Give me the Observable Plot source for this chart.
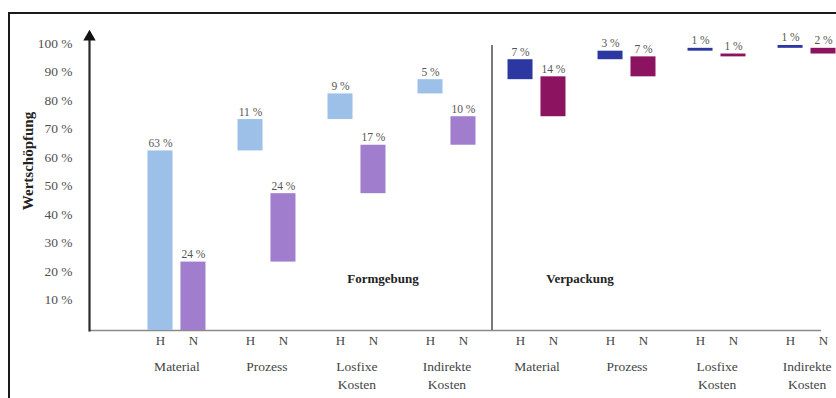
<!DOCTYPE html>
<html>
<head>
<meta charset="utf-8">
<script src="https://cdn.jsdelivr.net/npm/d3@7"></script>
<script src="https://cdn.jsdelivr.net/npm/@observablehq/plot@0.6"></script>
<style>
  html, body { margin: 0; padding: 0; background: #fff; }
  #wrap { position: relative; width: 836px; height: 398px; overflow: hidden; background: #fff; }
  #chart { position: absolute; left: 0; top: 0; }
  #border {
    position: absolute; left: 8px; top: 12px; right: -4px; bottom: -4px;
    border-top: 2px solid #1a1a1a; border-left: 2px solid #1a1a1a;
    pointer-events: none; z-index: 2;
  }
</style>
</head>
<body>
<div id="wrap"><div id="chart"></div><div id="border"></div></div>
<script>
// Wertschöpfung per cost category, split by process step (Formgebung, Verpackung)
// and by variant (H, N). Each bar floats on the running total of the ones before it.
const sections = ["Formgebung", "Verpackung"];
const categories = ["Material", "Prozess", "Losfixe\nKosten", "Indirekte\nKosten"];
const hShares = [63, 11, 9, 5, 7, 3, 1, 1];
const nShares = [24, 24, 17, 10, 14, 7, 1, 2];
const variants = ["H", "N"];
const yTicks = [10, 20, 30, 40, 50, 60, 70, 80, 90, 100];

const colors = {
  Formgebung: {H: "#9cc0e7", N: "#a17dcd"},
  Verpackung: {H: "#2c37a2", N: "#8b135f"}
};

// one band per (section, category)
const groups = sections.flatMap(s => categories.map(c => ({key: `${s}|${c}`, section: s, category: c})));

function cumulate(shares, variant) {
  let total = 0;
  return shares.map((v, i) => {
    const row = {...groups[i], variant, value: v, y1: total, y2: total + v};
    total += v;
    return row;
  });
}
const bars = [...cumulate(hShares, "H"), ...cumulate(nShares, "N")];

// band layout: H and N share a band, each taking the outer part of it
const xRange = [147.5, 835.5];
const padInner = 0.356;
const step = (xRange[1] - xRange[0]) / (groups.length - padInner);
const bw = step * (1 - padInner);
const barW = 25;
const inset = bw - barW;
const half = (bw - barW) / 2; // offset of H/N centres from band centre
const offset = {H: -half, N: half};

const serif = "'Liberation Serif', 'DejaVu Serif', serif";

const plot = Plot.plot({
  width: 836,
  height: 398,
  marginTop: 33,
  marginBottom: 68,
  marginLeft: 89,
  marginRight: 15,
  style: {fontFamily: serif, background: "#fff"},
  x: {type: "band", domain: groups.map(g => g.key), range: xRange,
      paddingInner: padInner, paddingOuter: 0, round: false, axis: null},
  y: {domain: [0, 104.2], axis: null},
  marks: [
    // baseline and vertical axis with arrow head
    Plot.ruleY([0], {stroke: "#8a8a8a", strokeWidth: 1.6}),
    Plot.frame({anchor: "left", stroke: "#2a2a2a", strokeWidth: 2.2}),
    Plot.dot([0], {frameAnchor: "top-left", symbol: "triangle", r: 4.6, fill: "#111", stroke: null, dy: 3.5}),
    Plot.axisY({ticks: yTicks, tickFormat: d => `${d} %`, tickSize: 0, tickPadding: 17,
                fontSize: 13.5, fill: "#505050", label: null, dy: -2}),
    Plot.text(["Wertschöpfung"], {frameAnchor: "left", textAnchor: "middle", rotate: -90, dx: -61, dy: -21,
                fontSize: 15, fontWeight: "bold", fill: "#222"}),

    // separator between the two process steps
    Plot.ruleX([groups[categories.length].key], {y1: 0, y2: 100, dx: -(bw / 2 + step * padInner / 2),
                stroke: "#7a7a7a", strokeWidth: 2}),

    // floating bars
    Plot.barY(bars.filter(d => d.variant === "H"), {x: "key", y1: "y1", y2: "y2", insetRight: inset,
                fill: d => colors[d.section].H}),
    Plot.barY(bars.filter(d => d.variant === "N"), {x: "key", y1: "y1", y2: "y2", insetLeft: inset,
                fill: d => colors[d.section].N}),

    // value labels above each bar, and H / N labels beneath the baseline
    ...variants.flatMap(v => [
      Plot.text(bars.filter(d => d.variant === v), {x: "key", y: "y2", text: d => `${d.value} %`,
                dx: offset[v], lineAnchor: "bottom", dy: -4, fontSize: 11.5, fill: "#555"}),
      Plot.text(groups, {x: "key", y: 0, text: () => v, dx: offset[v],
                lineAnchor: "top", dy: 5, fontSize: 13, fill: "#444"})
    ]),

    // category labels
    Plot.text(groups, {x: "key", y: 0, text: "category", lineAnchor: "top", dy: 28,
                lineHeight: 1.32, fontSize: 13.5, fill: "#444"}),

    // process step names
    Plot.text([{key: groups[2].key, name: sections[0]}], {x: "key", y: 18, text: "name", dx: 26,
                fontSize: 13, fontWeight: "bold", fill: "#222"}),
    Plot.text([{key: groups[4].key, name: sections[1]}], {x: "key", y: 18, text: "name", dx: 43,
                fontSize: 13, fontWeight: "bold", fill: "#222"})
  ]
});

document.getElementById("chart").append(plot);
</script>
</body>
</html>
